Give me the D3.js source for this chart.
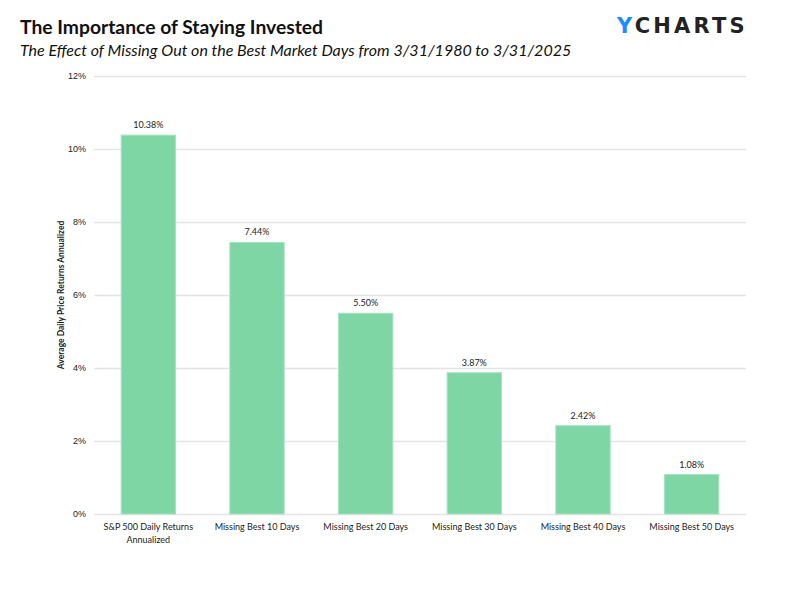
<!DOCTYPE html>
<html>
<head>
<meta charset="utf-8">
<script src="https://cdn.jsdelivr.net/npm/d3@7"></script>
<style>
  body { margin: 0; background: #fff; }
  svg { display: block; font-family: Lato, "Open Sans", sans-serif; }
</style>
</head>
<body>
<div class="chart"></div>
<script>
const categories = [
  ["S&P 500 Daily Returns", "Annualized"],
  ["Missing Best 10 Days"],
  ["Missing Best 20 Days"],
  ["Missing Best 30 Days"],
  ["Missing Best 40 Days"],
  ["Missing Best 50 Days"]
];
const values = [10.38, 7.44, 5.50, 3.87, 2.42, 1.08];
const yTicks = [0, 2, 4, 6, 8, 10, 12];

const width = 801, height = 593;
const margin = {top: 76, right: 55, bottom: 79, left: 94};

const svg = d3.select(".chart")
  .append("svg")
    .attr("width", width)
    .attr("height", height);

// Set the ranges
const xScale = d3.scaleBand()
  .domain(categories.map((d, i) => i))
  .range([margin.left, width - margin.right])
  .paddingInner(0.5)
  .paddingOuter(0.25);
const yScale = d3.scaleLinear()
  .domain([0, 12])
  .range([height - margin.bottom, margin.top]);

// gridlines + y labels
const yAxis = g => g
  .attr("transform", `translate(${margin.left},0)`)
  .call(d3.axisLeft(yScale)
    .tickValues(yTicks)
    .tickFormat(d => d + "%")
    .tickSizeInner(-(width - margin.left - margin.right))
    .tickSizeOuter(0)
    .tickPadding(8))
  .call(g => g.select(".domain").remove())
  .call(g => g.selectAll(".tick line").attr("stroke", "#e3e3e8").attr("stroke-width", 1.3))
  .call(g => g.selectAll(".tick text")
    .attr("fill", "#222").style("font-size", "9px"));

svg.append("g").call(yAxis);

// bars
svg.append("g")
  .selectAll("rect")
  .data(values)
  .join("rect")
    .attr("x", (d, i) => xScale(i))
    .attr("y", d => yScale(d))
    .attr("width", xScale.bandwidth())
    .attr("height", d => yScale(0) - yScale(d))
    .attr("fill", "#7fd6a5")
    .attr("stroke", "#a6e3c0")
    .attr("stroke-width", 1);

// value labels
svg.append("g")
  .selectAll("text")
  .data(values)
  .join("text")
    .attr("x", (d, i) => xScale(i) + xScale.bandwidth() / 2)
    .attr("y", d => yScale(d) - 7)
    .attr("text-anchor", "middle")
    .attr("fill", "#222")
    .style("font-size", "9px")
    .text(d => d.toFixed(2) + "%");

// x labels
const xl = svg.append("g")
  .selectAll("text")
  .data(categories)
  .join("text")
    .attr("x", (d, i) => xScale(i) + xScale.bandwidth() / 2)
    .attr("y", yScale(0) + 16)
    .attr("text-anchor", "middle")
    .attr("fill", "#222")
    .style("font-size", "9px");
xl.selectAll("tspan")
  .data(d => d)
  .join("tspan")
    .attr("x", function() { return this.parentNode.getAttribute("x"); })
    .attr("dy", (d, i) => i ? 13 : 0)
    .text(d => d);

// y axis title
svg.append("text")
  .attr("transform", `translate(64,${(yScale(0) + yScale(12)) / 2}) rotate(-90)`)
  .attr("text-anchor", "middle")
  .attr("fill", "#222")
  .style("font-size", "8.5px")
  .style("font-weight", "bold")
  .text("Average Daily Price Returns Annualized");

// titles
svg.append("text")
  .attr("x", 20).attr("y", 34)
  .attr("fill", "#111")
  .style("font-size", "19.3px")
  .style("font-weight", "bold")
  .text("The Importance of Staying Invested");

svg.append("text")
  .attr("x", 20).attr("y", 56)
  .attr("fill", "#111")
  .style("font-size", "16px")
  .style("font-style", "italic")
  .text("The Effect of Missing Out on the Best Market Days from 3/31/1980 to 3/31/2025");

// logo
const logo = svg.append("text")
  .attr("x", 617).attr("y", 33)
  .style("font-family", "'DejaVu Sans', sans-serif")
  .style("font-size", "21px")
  .style("font-weight", "bold")
  .style("letter-spacing", "3.2px");
logo.append("tspan").attr("fill", "#1a8cff").text("Y");
logo.append("tspan").attr("fill", "#222").text("CHARTS");
</script>
</body>
</html>
